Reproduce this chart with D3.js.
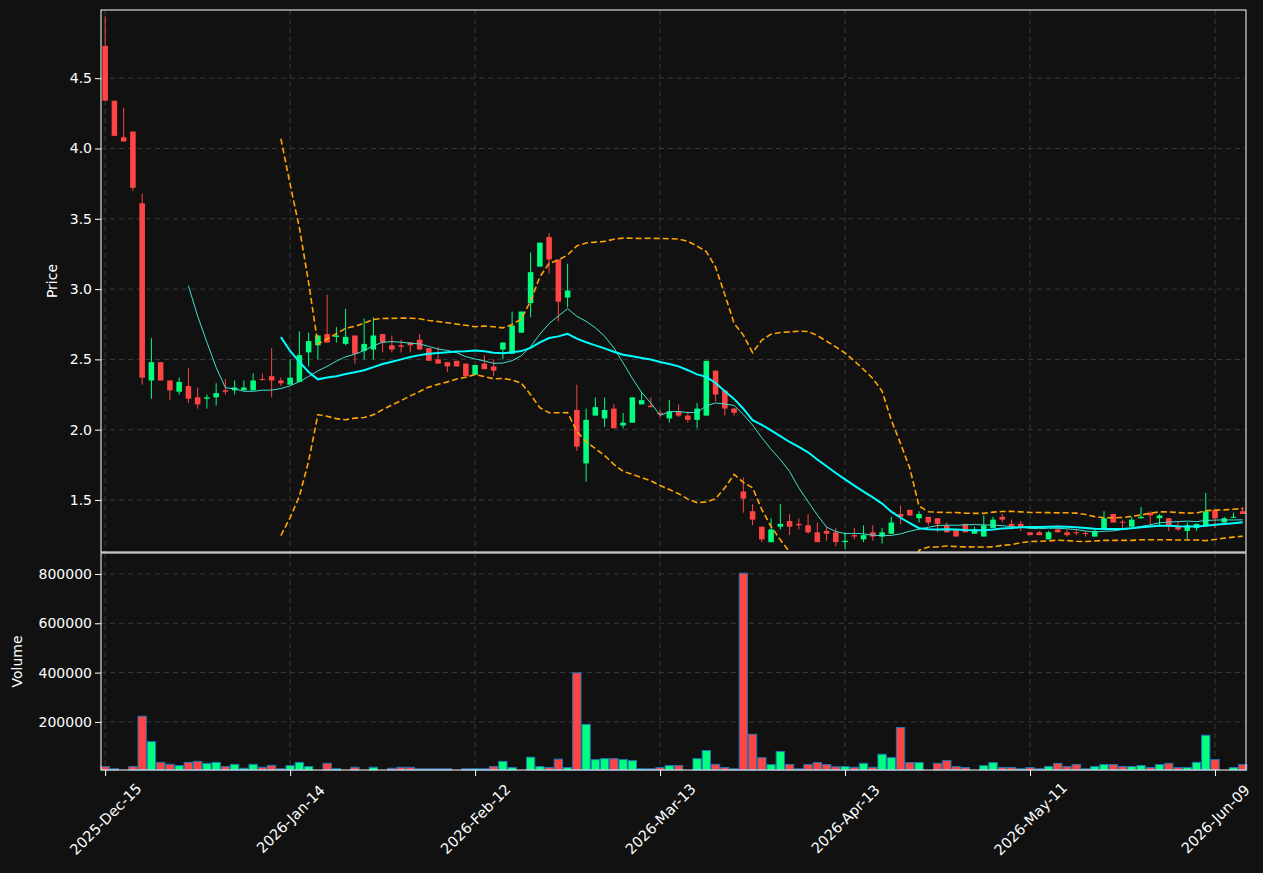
<!DOCTYPE html>
<html>
<head>
<meta charset="utf-8">
<script src="https://cdn.jsdelivr.net/npm/d3@7"></script>
<style>
  body { margin: 0; background: #111111; }
  text { font-family: "DejaVu Sans", sans-serif; }
</style>
</head>
<body>
<script>
// OHLC, one entry per trading day
const opens = [4.73,4.34,4.08,4.12,3.61,2.35,2.48,2.35,2.27,2.31,2.23,2.22,2.23,2.28,2.28,2.28,2.28,2.36,2.38,2.35,
  2.32,2.34,2.55,2.60,2.68,2.66,2.61,2.67,2.56,2.57,2.68,2.60,2.60,2.62,2.64,2.58,2.50,2.48,2.49,2.47,
  2.39,2.47,2.45,2.57,2.54,2.69,2.90,3.16,3.37,3.21,2.94,2.14,1.76,2.10,2.08,2.15,2.03,2.05,2.18,2.17,
  2.12,2.08,2.13,2.10,2.07,2.10,2.42,2.28,2.15,1.56,1.42,1.31,1.20,1.31,1.35,1.33,1.32,1.27,1.28,1.27,
  1.20,1.25,1.22,1.27,1.24,1.26,1.40,1.43,1.37,1.38,1.37,1.32,1.29,1.33,1.26,1.24,1.30,1.38,1.33,1.33,
  1.27,1.27,1.22,1.29,1.27,1.27,1.265,1.24,1.29,1.40,1.345,1.31,1.37,1.41,1.37,1.37,1.31,1.28,1.30,1.32,
  1.43,1.34,1.375,1.42]
const closes = [4.34,4.09,4.05,3.72,2.37,2.48,2.35,2.28,2.34,2.22,2.18,2.23,2.26,2.27,2.30,2.30,2.35,2.355,2.35,2.33,
  2.37,2.53,2.63,2.67,2.62,2.67,2.66,2.54,2.61,2.67,2.62,2.57,2.59,2.60,2.57,2.49,2.47,2.45,2.45,2.38,
  2.46,2.43,2.42,2.62,2.74,2.84,3.12,3.33,3.21,2.91,2.99,1.88,2.07,2.16,2.14,2.01,2.05,2.23,2.21,2.16,
  2.11,2.13,2.10,2.07,2.15,2.49,2.25,2.15,2.12,1.51,1.36,1.22,1.29,1.33,1.31,1.32,1.27,1.20,1.26,1.20,
  1.21,1.24,1.25,1.24,1.27,1.34,1.38,1.39,1.40,1.34,1.33,1.27,1.24,1.27,1.29,1.32,1.36,1.36,1.31,1.31,
  1.25,1.25,1.27,1.27,1.25,1.265,1.26,1.28,1.37,1.34,1.34,1.36,1.38,1.39,1.39,1.32,1.29,1.32,1.33,1.42,
  1.37,1.37,1.38,1.40]
const highs = [4.94,4.34,4.29,4.12,3.68,2.65,2.48,2.35,2.37,2.44,2.30,2.25,2.33,2.36,2.35,2.35,2.40,2.40,2.58,2.37,
  2.50,2.70,2.69,2.67,2.96,2.73,2.86,2.67,2.79,2.80,2.68,2.67,2.64,2.62,2.68,2.58,2.59,2.48,2.49,2.47,
  2.46,2.53,2.50,2.62,2.84,2.84,3.26,3.33,3.40,3.21,3.18,2.32,2.15,2.23,2.23,2.18,2.12,2.23,2.27,2.23,
  2.14,2.21,2.18,2.13,2.19,2.49,2.42,2.28,2.15,1.66,1.47,1.31,1.37,1.47,1.40,1.37,1.40,1.34,1.31,1.30,
  1.27,1.30,1.32,1.32,1.30,1.38,1.46,1.43,1.42,1.38,1.37,1.34,1.29,1.33,1.31,1.39,1.38,1.40,1.36,1.35,
  1.27,1.28,1.28,1.32,1.29,1.29,1.28,1.29,1.42,1.40,1.36,1.38,1.45,1.42,1.40,1.37,1.35,1.34,1.33,1.55,
  1.43,1.38,1.41,1.45]
const lows = [4.34,4.09,4.05,3.70,2.32,2.22,2.35,2.21,2.25,2.19,2.15,2.15,2.17,2.25,2.25,2.28,2.28,2.35,2.23,2.31,
  2.32,2.34,2.45,2.50,2.62,2.62,2.60,2.47,2.50,2.50,2.55,2.55,2.55,2.55,2.57,2.49,2.47,2.41,2.45,2.38,
  2.39,2.43,2.38,2.50,2.54,2.69,2.80,3.16,3.11,2.77,2.87,1.85,1.63,2.10,2.02,2.01,2.01,2.05,2.18,2.16,
  2.09,2.05,2.09,2.05,2.01,2.10,2.20,2.10,2.10,1.41,1.32,1.20,1.20,1.29,1.25,1.29,1.26,1.20,1.21,1.17,
  1.15,1.22,1.20,1.21,1.19,1.26,1.33,1.39,1.34,1.32,1.27,1.27,1.24,1.27,1.26,1.24,1.30,1.34,1.29,1.28,
  1.25,1.25,1.22,1.27,1.24,1.25,1.24,1.24,1.29,1.34,1.30,1.31,1.37,1.31,1.31,1.28,1.28,1.22,1.28,1.32,
  1.30,1.34,1.37,1.40]
const volumes = [19000,10000,5000,19000,223000,120000,36000,28000,23000,36000,40000,32000,36000,19000,28000,12000,28000,16000,24000,10000,
  23000,36000,19000,3000,32000,10000,4000,16000,4000,16000,4000,12000,16000,16000,10000,10000,10000,10000,4000,10000,
  10000,10000,19000,40000,15000,5000,57000,19000,15000,49000,15000,399000,190000,47000,51000,51000,47000,43000,10000,10000,
  15000,23000,23000,4000,51000,84000,28000,15000,10000,803000,150000,55000,27000,80000,27000,10000,27000,35000,27000,18000,
  19000,16000,32000,16000,69000,55000,177000,35000,35000,5000,32000,43000,19000,15000,5000,23000,35000,15000,15000,10000,
  15000,10000,19000,32000,19000,27000,10000,19000,27000,27000,19000,19000,23000,15000,27000,32000,15000,15000,36000,146000,
  47000,4000,15000,27000]
const tickIndex = [0, 20, 40, 60, 80, 100, 120]
const tickLabels = ["2025-Dec-15", "2026-Jan-14", "2026-Feb-12", "2026-Mar-13", "2026-Apr-13", "2026-May-11", "2026-Jun-09"]
const priceTicks = [1.5, 2.0, 2.5, 3.0, 3.5, 4.0, 4.5]
const volumeTicks = [200000, 400000, 600000, 800000]

const width = 1263, height = 873
const left = 101, right = 1246
const pTop = 10, pBottom = 552, vTop = 553, vBottom = 770
const up = "#00ff7f", down = "#ff4444"

let svg = d3.select("body").append("svg")
    .attr("width", width)
    .attr("height", height)
    .style("background", "#111111")

let idx = d3.range(closes.length)
let x = d3.scaleLinear().domain([-0.45, 123.35]).range([left, right])
let y = d3.scaleLinear().domain([1.13, 4.985]).range([pBottom, pTop])
let yv = d3.scaleLinear().domain([5000, 885000]).range([vBottom, vTop])
let bw = x(1) - x(0)

// rolling stats from the closes
function rolling(n, f) {
  return idx.map(i => i < n - 1 ? null : f(closes.slice(i - n + 1, i + 1)))
}
let ma10 = rolling(10, d3.mean)
let ma20 = rolling(20, d3.mean)
let sd20 = rolling(20, a => { let m = d3.mean(a); return Math.sqrt(d3.mean(a, v => (v - m) * (v - m))) })
let bbUp = idx.map(i => ma20[i] == null ? null : ma20[i] + 2 * sd20[i])
let bbLo = idx.map(i => ma20[i] == null ? null : ma20[i] - 2 * sd20[i])

svg.append("clipPath").attr("id", "pclip").append("rect")
    .attr("x", left).attr("y", pTop).attr("width", right - left).attr("height", pBottom - pTop)

// grids
function grid(g, ys, scale) {
  g.selectAll(".h").data(ys).enter().append("line")
      .attr("x1", left).attr("x2", right)
      .attr("y1", d => scale(d)).attr("y2", d => scale(d))
  g.selectAll("line").attr("stroke", "#3a3a3a").attr("stroke-dasharray", "5,4")
}
let gp = svg.append("g")
grid(gp, priceTicks, y)
gp.selectAll(".v").data(tickIndex).enter().append("line")
    .attr("x1", d => x(d)).attr("x2", d => x(d)).attr("y1", pTop).attr("y2", pBottom)
    .attr("stroke", "#3a3a3a").attr("stroke-dasharray", "5,4")
let gv = svg.append("g")
grid(gv, volumeTicks, yv)
gv.selectAll(".v").data(tickIndex).enter().append("line")
    .attr("x1", d => x(d)).attr("x2", d => x(d)).attr("y1", vTop).attr("y2", vBottom)
    .attr("stroke", "#3a3a3a").attr("stroke-dasharray", "5,4")

// candles
let price = svg.append("g").attr("clip-path", "url(#pclip)")
let col = i => closes[i] >= opens[i] ? up : down
price.selectAll(".wick").data(idx).enter().append("line")
    .attr("x1", i => x(i)).attr("x2", i => x(i))
    .attr("y1", i => y(highs[i])).attr("y2", i => y(lows[i]))
    .attr("stroke", col).attr("stroke-width", 1)
price.selectAll(".body").data(idx).enter().append("rect")
    .attr("x", i => x(i) - bw * 0.3)
    .attr("width", bw * 0.6)
    .attr("y", i => y(Math.max(opens[i], closes[i])))
    .attr("height", i => Math.max(1, Math.abs(y(opens[i]) - y(closes[i]))))
    .attr("fill", col)

let line = d3.line().defined(d => d[1] != null).x(d => x(d[0])).y(d => y(d[1]))
let series = (arr) => idx.map(i => [i, arr[i]])
price.append("path").attr("d", line(series(bbUp))).attr("fill", "none")
    .attr("stroke", "#ffa500").attr("stroke-width", 1.6).attr("stroke-dasharray", "6,3")
price.append("path").attr("d", line(series(bbLo))).attr("fill", "none")
    .attr("stroke", "#ffa500").attr("stroke-width", 1.6).attr("stroke-dasharray", "6,3")
price.append("path").attr("d", line(series(ma10))).attr("fill", "none")
    .attr("stroke", "#40e0d0").attr("stroke-width", 1)
price.append("path").attr("d", line(series(ma20))).attr("fill", "none")
    .attr("stroke", "#00ffff").attr("stroke-width", 2)

// volume
svg.append("g").selectAll("rect").data(idx).enter().append("rect")
    .attr("x", i => x(i) - bw * 0.45)
    .attr("width", bw * 0.9)
    .attr("y", i => yv(volumes[i]))
    .attr("height", i => vBottom - yv(volumes[i]))
    .attr("fill", col)
    .attr("stroke", "#1f77b4").attr("stroke-width", 1)

// frames
svg.append("rect").attr("x", left).attr("y", pTop).attr("width", right - left).attr("height", pBottom - pTop)
    .attr("fill", "none").attr("stroke", "#ffffff")
svg.append("rect").attr("x", left).attr("y", vTop).attr("width", right - left).attr("height", vBottom - vTop)
    .attr("fill", "none").attr("stroke", "#ffffff")

// axes
let ya = svg.append("g").attr("transform", `translate(${left},0)`)
    .call(d3.axisLeft(y).tickValues(priceTicks).tickFormat(d3.format(".1f")).tickSizeOuter(0))
let va = svg.append("g").attr("transform", `translate(${left},0)`)
    .call(d3.axisLeft(yv).tickValues(volumeTicks).tickFormat(d3.format("d")).tickSizeOuter(0))
let xa = svg.append("g").attr("transform", `translate(0,${vBottom})`)
    .call(d3.axisBottom(x).tickValues(tickIndex).tickFormat((d, i) => tickLabels[i]).tickSizeOuter(0))
for (let a of [ya, va, xa]) {
  a.select(".domain").remove()
  a.selectAll("line").attr("stroke", "#ffffff")
  a.selectAll("text").attr("fill", "#ffffff").style("font-size", "14px").style("font-family", "DejaVu Sans")
}
xa.selectAll("text").attr("text-anchor", "middle").attr("y", 0).attr("dy", "0.35em")
    .attr("transform", "translate(0,49) rotate(-45)").style("font-size", "14.5px")

svg.append("text").attr("transform", `translate(57,${(pTop + pBottom) / 2}) rotate(-90)`)
    .attr("text-anchor", "middle").attr("fill", "#ffffff").style("font-size", "14px").text("Price")
svg.append("text").attr("transform", `translate(22,${(vTop + vBottom) / 2}) rotate(-90)`)
    .attr("text-anchor", "middle").attr("fill", "#ffffff").style("font-size", "14px").text("Volume")
</script>
</body>
</html>
